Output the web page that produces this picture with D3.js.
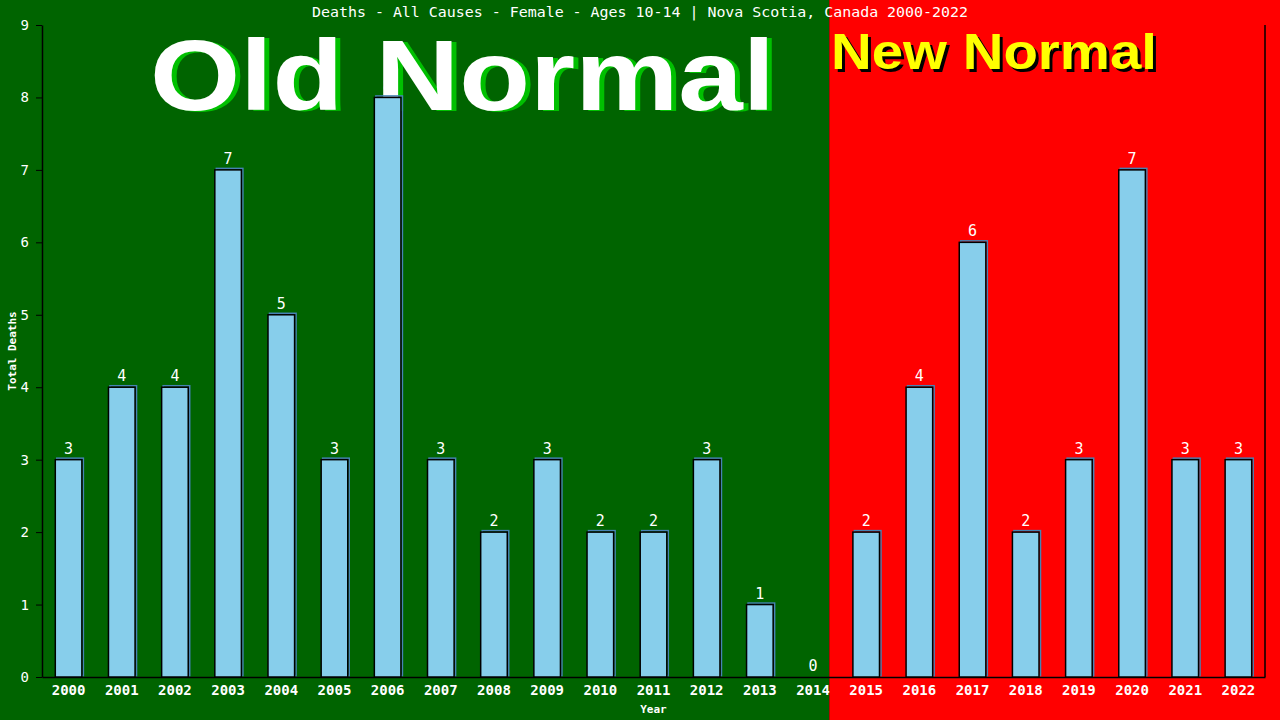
<!DOCTYPE html>
<html>
<head>
<meta charset="utf-8">
<script src="https://cdn.jsdelivr.net/npm/d3@7"></script>
<style>
  body { margin: 0; background: #000; }
  svg { display: block; }
</style>
</head>
<body>
<div class="chart"></div>
<script>
// deaths per year
const years = ['2000','2001','2002','2003','2004','2005','2006','2007','2008','2009','2010','2011',
  '2012','2013','2014','2015','2016','2017','2018','2019','2020','2021','2022'];
const deaths = [3, 4, 4, 7, 5, 3, 8, 3, 2, 3, 2, 2, 3, 1, 0, 2, 4, 6, 2, 3, 7, 3, 3];
const yTicks = [0, 1, 2, 3, 4, 5, 6, 7, 8, 9];
const lastOldYear = '2014';

const W = 1280, H = 720;
const margin = {top: 25, right: 15, bottom: 43, left: 42};
const width = W - margin.left - margin.right;
const height = H - margin.top - margin.bottom;

const data = years.map((y, i) => ({year: y, value: deaths[i]}));

const svg = d3.select('.chart').append('svg')
  .attr('width', W)
  .attr('height', H);

const x = d3.scaleBand()
  .domain(years)
  .range([0, width])
  .paddingInner(0.5)
  .paddingOuter(0.25);

const y = d3.scaleLinear()
  .domain([0, 9])
  .range([height, 0]);

// background split: old normal (green) / new normal (red)
const split = margin.left + x(lastOldYear) + x.bandwidth() + 3;
svg.append('rect').attr('x', 0).attr('y', 0).attr('width', split).attr('height', H).attr('fill', '#006400');
svg.append('rect').attr('x', split).attr('y', 0).attr('width', W - split).attr('height', H).attr('fill', '#ff0000');

const mono = "'DejaVu Sans Mono', 'Liberation Mono', monospace";
const sans = "'Liberation Sans', Arial, sans-serif";

// title
svg.append('text')
  .attr('x', W / 2)
  .attr('y', 17)
  .attr('text-anchor', 'middle')
  .attr('fill', '#fff')
  .attr('textLength', 656).attr('lengthAdjust', 'spacingAndGlyphs')
  .style('font-family', mono)
  .style('font-size', '14px')
  .text('Deaths - All Causes - Female - Ages 10-14 | Nova Scotia, Canada 2000-2022');

// big labels, each with an offset shadow copy underneath
function bigLabel(txt, x0, y0, size, len, fill, shadow, dx, dy) {
  svg.append('text').attr('x', x0 + dx).attr('y', y0 + dy)
    .attr('fill', shadow)
    .attr('textLength', len).attr('lengthAdjust', 'spacingAndGlyphs')
    .style('font-family', sans).style('font-weight', 'bold').style('font-size', size + 'px')
    .text(txt);
  svg.append('text').attr('x', x0).attr('y', y0)
    .attr('fill', fill)
    .attr('textLength', len).attr('lengthAdjust', 'spacingAndGlyphs')
    .style('font-family', sans).style('font-weight', 'bold').style('font-size', size + 'px')
    .text(txt);
}
bigLabel('Old Normal', 150, 110, 100, 625, '#fff', '#00c000', 5, 1);
bigLabel('New Normal', 831, 69, 50, 326, '#ffff00', '#000', 3, 3);

const g = svg.append('g')
  .attr('transform', `translate(${margin.left}, ${margin.top})`);

// x axis
const xAxis = g.append('g')
  .attr('transform', `translate(0, ${height})`)
  .call(d3.axisBottom(x).tickSize(0).tickSizeOuter(0).tickPadding(8));
xAxis.select('.domain').attr('stroke', '#000').attr('stroke-width', 1.5);
xAxis.selectAll('.tick>text')
  .attr('fill', '#fff')
  .style('font-family', mono)
  .style('font-size', '14px')
  .style('font-weight', 'bold');

// y axis
const yAxis = g.append('g')
  .call(d3.axisLeft(y).tickValues(yTicks).tickFormat(d3.format('d')).tickSize(6).tickSizeOuter(0).tickPadding(7));
yAxis.select('.domain').attr('stroke', '#000').attr('stroke-width', 1.5);
yAxis.selectAll('.tick line').attr('stroke', '#000');
yAxis.selectAll('.tick>text')
  .attr('fill', '#fff')
  .style('font-family', mono)
  .style('font-size', '14px');

// bar shadows (blue outline just up/right of each bar)
g.selectAll('rect.shadow')
  .data(data)
  .enter()
  .append('rect')
  .attr('class', 'shadow')
  .attr('x', d => x(d.year) + 1.5)
  .attr('y', d => y(d.value) - 1.5)
  .attr('width', x.bandwidth())
  .attr('height', d => height - y(d.value))
  .attr('fill', 'none')
  .attr('stroke', '#4682b4')
  .attr('stroke-width', 1.5);

// bars
g.selectAll('rect.bar')
  .data(data.filter(d => d.value > 0))
  .enter()
  .append('rect')
  .attr('class', 'bar')
  .attr('x', d => x(d.year))
  .attr('y', d => y(d.value))
  .attr('width', x.bandwidth())
  .attr('height', d => height - y(d.value))
  .attr('fill', '#87ceeb')
  .attr('stroke', '#000')
  .attr('stroke-width', 1.5);

// value labels
g.selectAll('text.val')
  .data(data)
  .enter()
  .append('text')
  .attr('class', 'val')
  .attr('x', d => x(d.year) + x.bandwidth() / 2)
  .attr('y', d => y(d.value) - 6)
  .attr('text-anchor', 'middle')
  .attr('fill', '#fff')
  .style('font-family', mono)
  .style('font-size', '15px')
  .text(d => d.value);

// right border line
g.append('line')
  .attr('x1', width).attr('x2', width)
  .attr('y1', 0).attr('y2', height)
  .attr('stroke', '#000').attr('stroke-width', 1.5);

// axis titles
svg.append('text')
  .attr('x', margin.left + width / 2)
  .attr('y', H - 7)
  .attr('text-anchor', 'middle')
  .attr('fill', '#fff')
  .style('font-family', mono)
  .style('font-size', '11px')
  .style('font-weight', 'bold')
  .text('Year');

svg.append('text')
  .attr('transform', `translate(16, ${margin.top + height / 2}) rotate(-90)`)
  .attr('text-anchor', 'middle')
  .attr('fill', '#fff')
  .style('font-family', mono)
  .style('font-size', '11px')
  .style('font-weight', 'bold')
  .text('Total Deaths');
</script>
</body>
</html>
